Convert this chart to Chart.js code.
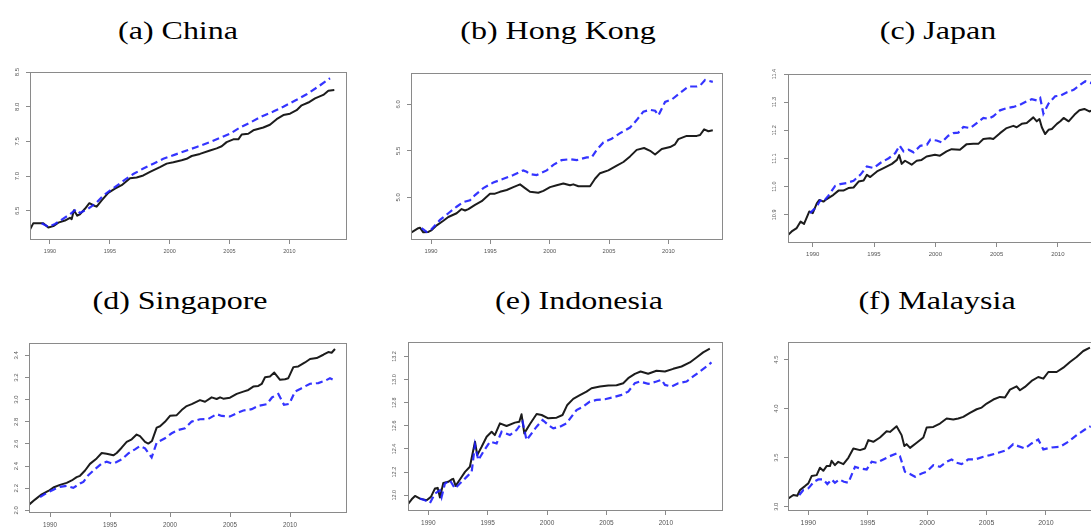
<!DOCTYPE html>
<html>
<head>
<meta charset="utf-8">
<script src="https://cdn.jsdelivr.net/npm/chart.js@4.4.1/dist/chart.umd.min.js"></script>
<style>
  html, body { margin: 0; padding: 0; background: #fff; width: 1091px; height: 527px; overflow: hidden; }
  .title {
    position: absolute;
    font-family: "Liberation Serif", "Times New Roman", serif;
    font-size: 26px;
    line-height: 30px;
    color: #000;
    white-space: nowrap;
    transform: translateX(-50%) scaleX(1.23);
  }
  canvas { position: absolute; }
</style>
</head>
<body>
<script>
// tick labels
const yearTicks = [1990, 1995, 2000, 2005, 2010];
const chinaTicks = [6.5, 7.0, 7.5, 8.0, 8.5];
const hkTicks = [5.0, 5.5, 6.0];
const jpTicks = [10.9, 11.0, 11.1, 11.2, 11.3, 11.4];
const sgTicks = [2.0, 2.2, 2.4, 2.6, 2.8, 3.0, 3.2, 3.4];
const idTicks = [12.0, 12.2, 12.4, 12.6, 12.8, 13.0, 13.2];
const myTicks = [3.0, 3.5, 4.0, 4.5];

// (a) China
const chinaActualYears = [1988.33,1988.6,1989.44,1989.86,1990.28,1990.7,1991.25,1991.67,1991.81,1992.0,1992.28,1992.5,1992.92,1993.29,1993.76,1993.9,1994.32,1994.87,1995.43,1995.99,1996.69,1997.24,1997.8,1998.36,1999.19,1999.75,2000.31,2001.0,2001.42,2001.84,2002.53,2003.37,2003.93,2004.35,2004.76,2005.32,2005.74,2006.02,2006.57,2006.99,2007.83,2008.38,2008.94,2009.5,2010.06,2010.61,2011.03,2011.59,2012.15,2012.84,2013.26,2013.76];
const chinaActual = [6.23,6.32,6.32,6.26,6.28,6.33,6.36,6.40,6.38,6.51,6.43,6.45,6.53,6.61,6.57,6.56,6.65,6.76,6.82,6.87,6.97,6.98,7.01,7.06,7.13,7.18,7.20,7.23,7.25,7.29,7.32,7.37,7.40,7.43,7.49,7.53,7.53,7.60,7.61,7.66,7.70,7.74,7.82,7.88,7.90,7.95,8.02,8.06,8.12,8.17,8.23,8.24];
const chinaForecastYears = [1989.3,1989.86,1990.42,1991.67,1992.17,1992.5,1993.2,1993.9,1994.46,1995.01,1995.57,1996.27,1996.96,1997.8,1998.64,1999.47,2000.45,2001.42,2002.26,2003.37,2004.21,2005.04,2005.88,2006.71,2007.69,2008.66,2009.5,2010.61,2011.45,2012.42,2013.4];
const chinaForecast = [6.32,6.27,6.31,6.45,6.52,6.47,6.53,6.62,6.72,6.79,6.86,6.95,7.03,7.11,7.18,7.25,7.31,7.37,7.42,7.49,7.55,7.61,7.70,7.77,7.86,7.93,8.00,8.10,8.18,8.29,8.41];

// (b) Hong Kong
const hkActualYears = [1988.29,1988.93,1989.07,1989.35,1989.78,1990.06,1990.48,1991.04,1991.46,1992.16,1992.58,1992.87,1993.15,1993.71,1994.27,1994.97,1995.39,1995.81,1996.38,1996.94,1997.5,1997.92,1998.34,1999.04,1999.47,2000.03,2000.59,2001.15,2001.71,2001.99,2002.42,2003.26,2003.4,2003.82,2004.24,2004.94,2005.65,2006.21,2006.77,2007.33,2007.95,2008.46,2008.88,2009.44,2010.14,2010.56,2010.84,2011.54,2012.39,2012.67,2013.01,2013.37,2013.74];
const hkActual = [4.62,4.67,4.675,4.625,4.63,4.65,4.70,4.75,4.79,4.83,4.875,4.86,4.875,4.92,4.96,5.04,5.04,5.06,5.08,5.11,5.14,5.10,5.06,5.05,5.07,5.11,5.13,5.15,5.13,5.14,5.12,5.12,5.12,5.20,5.26,5.29,5.34,5.38,5.44,5.51,5.53,5.50,5.46,5.52,5.54,5.57,5.625,5.66,5.66,5.67,5.73,5.71,5.72];
const hkForecastYears = [1989.21,1989.63,1990.06,1990.76,1991.46,1992.16,1992.72,1993.29,1993.71,1994.41,1995.25,1996.1,1996.94,1997.78,1998.06,1998.34,1998.9,1999.75,2000.31,2001.01,2001.71,2002.28,2003.12,2003.54,2003.96,2004.52,2005.22,2005.93,2006.77,2007.33,2007.89,2008.46,2008.88,2009.16,2009.72,2010.28,2010.98,2011.69,2012.39,2012.67,2013.09,2013.74];
const hkForecast = [4.67,4.63,4.66,4.76,4.83,4.90,4.95,4.97,5.025,5.10,5.16,5.20,5.24,5.29,5.275,5.25,5.24,5.29,5.35,5.40,5.41,5.40,5.43,5.43,5.51,5.59,5.63,5.69,5.75,5.83,5.92,5.94,5.93,5.88,6.025,6.05,6.12,6.19,6.19,6.20,6.26,6.24];

// (c) Japan
const jpActualYears = [1988.0,1988.28,1988.69,1989.01,1989.29,1989.72,1990.0,1990.33,1990.54,1990.87,1991.14,1991.69,1992.1,1992.5,1992.91,1993.33,1993.74,1994.15,1994.42,1994.69,1995.24,1995.78,1996.46,1996.87,1997.05,1997.26,1997.53,1998.07,1998.48,1998.88,1999.29,1999.97,2000.38,2000.92,2001.33,2002.01,2002.56,2003.1,2003.51,2003.92,2004.46,2004.73,2005.28,2005.82,2006.37,2006.64,2007.05,2007.46,2008.0,2008.28,2008.5,2008.69,2008.96,2009.24,2009.51,2009.92,2010.2,2010.47,2010.88,2011.35,2011.76,2012.16,2012.57,2012.85,2013.3,2013.75];
const jpActual = [10.829,10.841,10.853,10.876,10.868,10.912,10.906,10.941,10.953,10.947,10.956,10.971,10.986,10.986,10.995,10.997,11.018,11.022,11.042,11.034,11.054,11.066,11.081,11.095,11.112,11.081,11.092,11.078,11.092,11.095,11.107,11.113,11.110,11.125,11.133,11.131,11.151,11.152,11.152,11.169,11.172,11.169,11.190,11.208,11.216,11.211,11.223,11.226,11.246,11.232,11.240,11.211,11.187,11.202,11.205,11.223,11.232,11.244,11.232,11.255,11.271,11.276,11.267,11.272,11.280,11.290];
const jpForecastYears = [1989.78,1990.33,1990.6,1990.87,1991.28,1991.83,1992.24,1992.78,1993.33,1993.88,1994.42,1994.97,1995.51,1996.2,1996.73,1997.09,1997.41,1997.82,1998.23,1998.78,1999.32,1999.59,2000.11,2000.52,2001.06,2001.47,2001.88,2002.29,2002.84,2003.38,2003.92,2004.33,2004.73,2005.28,2005.82,2006.37,2006.91,2007.46,2007.87,2008.28,2008.56,2008.82,2009.24,2009.78,2010.2,2010.75,2011.29,2011.84,2012.24,2012.65,2013.2,2013.75];
const jpForecast = [10.906,10.930,10.951,10.947,10.968,11.003,11.009,11.013,11.021,11.042,11.072,11.066,11.084,11.101,11.119,11.146,11.125,11.131,11.122,11.145,11.149,11.167,11.164,11.157,11.181,11.190,11.192,11.212,11.208,11.226,11.244,11.241,11.250,11.271,11.279,11.283,11.291,11.303,11.311,11.306,11.315,11.259,11.295,11.321,11.323,11.335,11.344,11.362,11.374,11.368,11.380,11.390];

// (d) Singapore
const sgActualYears = [1988.28,1988.75,1989.31,1989.86,1990.28,1990.83,1991.39,1991.81,1992.22,1992.5,1992.92,1993.33,1993.89,1994.31,1994.72,1995.28,1995.56,1995.97,1996.39,1996.81,1997.22,1997.5,1997.92,1998.19,1998.5,1998.89,1999.17,1999.58,2000.0,2000.56,2000.97,2001.39,2001.81,2002.5,2002.92,2003.47,2003.89,2004.17,2004.44,2005.0,2005.56,2006.11,2006.53,2006.94,2007.36,2007.64,2007.92,2008.33,2008.69,2009.17,2009.58,2009.86,2010.28,2010.69,2011.25,2011.67,2012.22,2012.78,2013.19,2013.47,2013.75];
const sgActual = [2.054,2.097,2.145,2.175,2.206,2.23,2.248,2.27,2.30,2.312,2.36,2.42,2.469,2.518,2.512,2.497,2.518,2.566,2.618,2.642,2.685,2.67,2.618,2.603,2.627,2.748,2.76,2.80,2.854,2.86,2.906,2.942,2.96,2.996,2.981,3.021,3.006,3.021,3.009,3.018,3.052,3.073,3.088,3.118,3.124,3.142,3.203,3.209,3.245,3.179,3.185,3.194,3.294,3.30,3.336,3.367,3.376,3.406,3.43,3.424,3.458];
const sgForecastYears = [1989.17,1989.72,1990.28,1990.83,1991.39,1991.94,1992.5,1992.78,1993.19,1993.75,1994.31,1994.72,1995.14,1995.42,1995.97,1996.53,1997.08,1997.5,1997.92,1998.47,1998.89,1999.58,2000.14,2000.69,2001.25,2001.81,2002.5,2003.19,2003.89,2004.31,2005.0,2005.56,2006.11,2006.81,2007.36,2008.06,2008.5,2009.03,2009.5,2009.94,2010.42,2010.97,2011.67,2012.36,2012.92,2013.33,2013.75];
const sgForecast = [2.121,2.157,2.187,2.212,2.221,2.203,2.242,2.257,2.318,2.372,2.424,2.439,2.424,2.43,2.46,2.515,2.551,2.581,2.56,2.478,2.611,2.651,2.696,2.726,2.742,2.802,2.823,2.826,2.869,2.853,2.848,2.878,2.902,2.914,2.944,2.959,3.02,3.051,2.953,2.962,3.074,3.104,3.144,3.15,3.171,3.193,3.172];

// (e) Indonesia
const idActualYears = [1988.32,1988.6,1988.88,1989.3,1989.86,1990.22,1990.56,1990.79,1990.98,1991.26,1991.68,1991.96,1992.1,1992.3,1992.66,1993.09,1993.5,1993.93,1994.12,1994.49,1994.91,1995.33,1995.6,1996.03,1996.59,1997.29,1997.66,1997.85,1998.08,1998.56,1999.12,1999.54,2000.1,2000.8,2001.3,2001.7,2002.2,2002.76,2003.32,2003.74,2004.45,2005.15,2005.85,2006.41,2006.83,2007.39,2007.87,2008.51,2009.21,2009.92,2010.62,2011.32,2012.02,2012.58,2013.14,2013.7];
const idActual = [11.928,11.965,11.994,11.971,11.957,11.986,12.058,12.064,11.98,12.107,12.116,12.136,12.142,12.081,12.136,12.202,12.246,12.463,12.347,12.419,12.506,12.549,12.52,12.622,12.599,12.628,12.636,12.70,12.535,12.616,12.703,12.694,12.665,12.671,12.694,12.781,12.833,12.865,12.896,12.925,12.94,12.949,12.951,12.969,13.012,13.05,13.07,13.05,13.076,13.07,13.093,13.113,13.148,13.191,13.235,13.267];
const idForecastYears = [1989.3,1989.72,1990.14,1990.56,1990.98,1991.12,1991.4,1991.82,1992.24,1992.66,1993.23,1993.65,1993.93,1994.21,1994.63,1995.19,1995.75,1996.17,1996.87,1997.43,1997.94,1998.27,1998.7,1999.12,1999.62,2000.1,2000.52,2001.08,2001.64,2002.06,2002.48,2003.04,2003.6,2004.17,2004.87,2005.57,2006.27,2006.83,2007.39,2007.81,2008.51,2009.21,2009.64,2009.92,2010.48,2011.04,2011.74,2012.3,2012.86,2013.42,2013.84];
const idForecast = [11.971,11.957,11.933,12.014,12.043,11.986,12.101,12.13,12.058,12.101,12.159,12.202,12.434,12.304,12.376,12.463,12.448,12.549,12.52,12.564,12.636,12.477,12.535,12.593,12.651,12.607,12.578,12.593,12.622,12.68,12.737,12.766,12.81,12.824,12.83,12.847,12.868,12.896,12.969,12.983,12.963,12.983,12.998,12.954,12.94,12.969,12.983,13.027,13.07,13.113,13.148];

// (f) Malaysia
const myActualYears = [1988.26,1988.74,1989.07,1989.3,1989.72,1990.0,1990.28,1990.7,1990.98,1991.26,1991.54,1991.82,1991.96,1992.24,1992.52,1992.95,1993.37,1993.79,1994.35,1994.77,1995.05,1995.47,1996.03,1996.59,1996.87,1997.43,1997.85,1998.08,1998.27,1998.56,1999.12,1999.68,1999.96,2000.52,2001.08,2001.64,2002.2,2002.62,2003.04,2003.6,2004.17,2004.59,2005.01,2005.57,2006.13,2006.55,2006.97,2007.53,2007.81,2008.23,2008.79,2009.35,2009.78,2010.2,2010.9,2011.46,2012.02,2012.58,2013.14,2013.7];
const myActual = [3.078,3.119,3.112,3.17,3.21,3.238,3.312,3.322,3.397,3.366,3.414,3.414,3.468,3.424,3.458,3.434,3.499,3.594,3.577,3.594,3.679,3.662,3.706,3.77,3.763,3.821,3.73,3.618,3.638,3.60,3.652,3.706,3.808,3.814,3.848,3.899,3.889,3.899,3.916,3.957,3.994,4.011,4.052,4.093,4.12,4.113,4.194,4.228,4.188,4.222,4.283,4.323,4.306,4.374,4.374,4.418,4.476,4.527,4.588,4.622];
const myForecastYears = [1989.24,1989.58,1990.0,1990.48,1990.84,1991.26,1991.6,1991.96,1992.24,1992.61,1993.0,1993.37,1993.93,1994.35,1994.91,1995.33,1995.75,1996.31,1996.87,1997.43,1997.71,1998.13,1998.56,1998.98,1999.54,1999.96,2000.52,2001.08,2001.64,2002.06,2002.48,2002.9,2003.46,2004.03,2004.73,2005.29,2005.99,2006.69,2007.25,2007.67,2008.23,2008.79,2009.35,2009.78,2010.48,2011.18,2011.88,2012.58,2013.28,2013.76];
const myForecast = [3.119,3.17,3.187,3.254,3.278,3.278,3.231,3.278,3.244,3.278,3.254,3.244,3.407,3.39,3.38,3.458,3.448,3.482,3.516,3.543,3.516,3.356,3.333,3.305,3.339,3.356,3.424,3.407,3.458,3.482,3.448,3.434,3.482,3.482,3.509,3.526,3.55,3.577,3.638,3.618,3.594,3.645,3.685,3.584,3.604,3.611,3.662,3.73,3.787,3.821];

// panel placement: plot box edges in page pixels, axis ranges
const panels = [
  { title: '(a) China', tx: 178, ty: 16, left: 30, right: 347, top: 72, bottom: 240,
    xMin: 1988.33, xMax: 2014.82, yMin: 6.08, yMax: 8.5, xFont: 5.5, yFont: 6,
    ay: chinaActualYears, av: chinaActual, fy: chinaForecastYears, fv: chinaForecast, ticks: chinaTicks },
  { title: '(b) Hong Kong', tx: 558, ty: 16, left: 411, right: 723, top: 73, bottom: 240,
    xMin: 1988.315, xMax: 2014.6, yMin: 4.543, yMax: 6.335, xFont: 5.8, yFont: 6,
    ay: hkActualYears, av: hkActual, fy: hkForecastYears, fv: hkForecast, ticks: hkTicks },
  { title: '(c) Japan', tx: 938, ty: 16, left: 788, right: 1113, top: 74, bottom: 243,
    xMin: 1987.98, xMax: 2014.5, yMin: 10.80, yMax: 11.4, xFont: 6, yFont: 5.5,
    ay: jpActualYears, av: jpActual, fy: jpForecastYears, fv: jpForecast, ticks: jpTicks },
  { title: '(d) Singapore', tx: 180, ty: 286, left: 29, right: 347, top: 343, bottom: 513,
    xMin: 1988.25, xMax: 2014.75, yMin: 1.976, yMax: 3.512, xFont: 6.3, yFont: 6,
    ay: sgActualYears, av: sgActual, fy: sgForecastYears, fv: sgForecast, ticks: sgTicks },
  { title: '(e) Indonesia', tx: 579, ty: 286, left: 408, right: 723, top: 342, bottom: 511,
    xMin: 1988.29, xMax: 2014.81, yMin: 11.864, yMax: 13.325, xFont: 6.5, yFont: 5.5,
    ay: idActualYears, av: idActual, fy: idForecastYears, fv: idForecast, ticks: idTicks },
  { title: '(f) Malaysia', tx: 937, ty: 286, left: 788, right: 1103, top: 342, bottom: 511,
    xMin: 1988.29, xMax: 2014.8, yMin: 2.956, yMax: 4.68, xFont: 7, yFont: 5.8,
    ay: myActualYears, av: myActual, fy: myForecastYears, fv: myForecast, ticks: myTicks }
];

const AXIS_W = 28, AXIS_H = 24, PAD = 12;
const frameColor = '#8a8a8a';

function toPoints(xs, ys) {
  return xs.map((x, i) => ({ x: x, y: ys[i] }));
}

// R style box round the plot region
const boxPlugin = {
  id: 'box',
  afterDraw(chart) {
    const a = chart.chartArea, ctx = chart.ctx;
    ctx.save();
    ctx.strokeStyle = frameColor;
    ctx.lineWidth = 1;
    ctx.strokeRect(a.left + 0.5, a.top + 0.5, a.right - a.left - 1, a.bottom - a.top - 1);
    ctx.restore();
  }
};

panels.forEach(p => {
  const t = document.createElement('div');
  t.className = 'title';
  t.textContent = p.title;
  t.style.left = p.tx + 'px';
  t.style.top = p.ty + 'px';
  document.body.appendChild(t);

  const w = AXIS_W + (p.right - p.left) + PAD;
  const h = PAD + (p.bottom - p.top) + AXIS_H;
  const c = document.createElement('canvas');
  c.width = w; c.height = h;
  c.style.left = (p.left - AXIS_W) + 'px';
  c.style.top = (p.top - PAD) + 'px';
  c.style.width = w + 'px';
  c.style.height = h + 'px';
  document.body.appendChild(c);

  new Chart(c, {
    type: 'line',
    data: {
      datasets: [
        {
          data: toPoints(p.fy, p.fv),
          borderColor: 'rgba(30,30,255,0.9)',
          borderWidth: 2.2,
          borderDash: [7, 4],
          pointRadius: 0,
          fill: false
        },
        {
          data: toPoints(p.ay, p.av),
          borderColor: '#1c1c1c',
          borderWidth: 2,
          borderJoinStyle: 'round',
          pointRadius: 0,
          fill: false
        }
      ]
    },
    options: {
      responsive: false,
      animation: false,
      devicePixelRatio: 1,
      layout: { padding: { top: PAD, right: PAD, left: 0, bottom: 0 } },
      plugins: { legend: { display: false }, tooltip: { enabled: false } },
      scales: {
        x: {
          type: 'linear',
          min: p.xMin,
          max: p.xMax,
          afterBuildTicks: s => { s.ticks = yearTicks.map(v => ({ value: v })); },
          afterFit: s => { s.height = AXIS_H; },
          grid: { drawOnChartArea: false, tickLength: 4, color: frameColor },
          border: { display: false },
          ticks: {
            font: { family: 'Liberation Sans, Arial, sans-serif', size: p.xFont },
            color: '#555',
            padding: 4,
            maxRotation: 0,
            autoSkip: false,
            callback: v => String(v)
          }
        },
        y: {
          type: 'linear',
          min: p.yMin,
          max: p.yMax,
          afterBuildTicks: s => { s.ticks = p.ticks.map(v => ({ value: v })); },
          afterFit: s => { s.width = AXIS_W; },
          grid: { drawOnChartArea: false, tickLength: 4, color: frameColor },
          border: { display: false },
          ticks: {
            font: { family: 'Liberation Sans, Arial, sans-serif', size: p.yFont },
            color: '#555',
            padding: 4,
            minRotation: 90,
            maxRotation: 90,
            crossAlign: 'center',
            autoSkip: false,
            callback: v => v.toFixed(1)
          }
        }
      }
    },
    plugins: [boxPlugin]
  });
});
</script>
</body>
</html>
